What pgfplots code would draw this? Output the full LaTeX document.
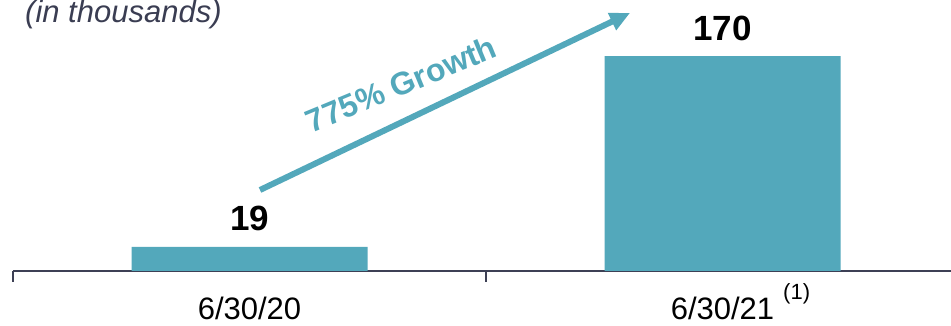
\documentclass[border=0pt]{standalone}
\usepackage{pgfplots}
\pgfplotsset{compat=1.18}
\usetikzlibrary{arrows.meta}
\usepackage{fontspec}
\setmainfont{Liberation Sans}
\definecolor{barteal}{HTML}{53A8BB}
\definecolor{axisgray}{HTML}{3D4055}
\definecolor{titlegray}{HTML}{3A3D52}
\begin{document}
\begin{tikzpicture}
\useasboundingbox (0,0) rectangle (951pt,326pt);
\begin{axis}[
  at={(13pt,55pt)}, anchor=south west,
  scale only axis, width=946pt, height=271pt,
  xmin=-0.5, xmax=1.5, ymin=0, ymax=214.3,
  clip=false,
  hide y axis,
  axis x line*=bottom,
  x axis line style={-, color=axisgray, line width=2pt},
  ybar, bar width=236pt, bar shift=0pt,
  xtick={0,1},
  xticklabels={6/30/20, 6/30/21\rlap{\hspace{9pt}\raisebox{20pt}{\fontsize{22}{26}\selectfont (1)}}},
  major tick length=0pt,
  xticklabel style={anchor=base, yshift=-49pt, font=\fontsize{31}{37}\selectfont, text=black, inner sep=0pt},
  extra x ticks={-0.5,0.5,1.5},
  extra x tick labels={},
  extra x tick style={tick align=outside, major tick length=11pt, tick style={line width=2pt, color=axisgray}},
  nodes near coords={\bfseries\fontsize{35}{42}\selectfont\pgfmathprintnumber[assume math mode=true]{\pgfplotspointmeta}},
  nodes near coords style={anchor=base, yshift=16pt, text=black, inner sep=0pt},
]
\addplot[fill=barteal, draw=none] coordinates {(0,19) (1,170)};
\end{axis}
\node[anchor=base west, inner sep=0pt, text=titlegray, font=\itshape\fontsize{31}{37}\selectfont] at (25pt,303pt) {(in thousands)};
\draw[barteal, line width=6pt, -{Triangle[length=20pt, width=18pt]}] (260pt,136pt) -- (630pt,313pt);
\node[rotate=22.5, text=barteal, font=\bfseries\fontsize{32}{38}\selectfont, inner sep=0pt] at (401pt,242pt) {775\% Growth};
\end{tikzpicture}
\end{document}
